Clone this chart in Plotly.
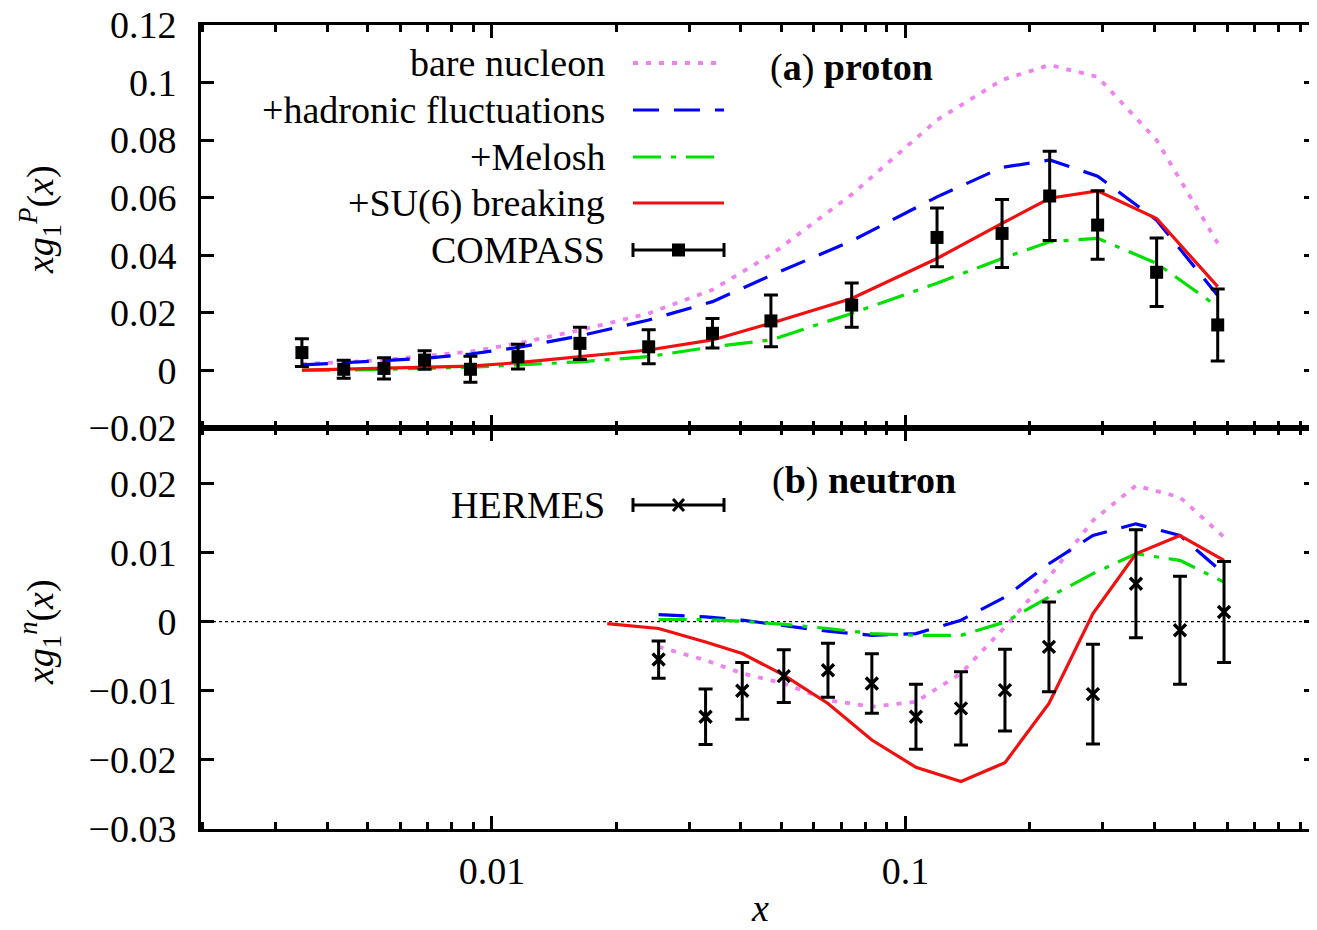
import plotly.graph_objects as go

# ---------------- data ----------------
# (a) proton : COMPASS points and model curves evaluated at the same x
x_proton = [0.00347, 0.00438, 0.00548, 0.00687, 0.00887, 0.01156, 0.01632, 0.02393,
            0.03414, 0.04727, 0.07411, 0.1192, 0.1712, 0.2232, 0.2915, 0.4049, 0.5689]
compass_g1p = [0.0062, 0.0004, 0.0007, 0.0036, 0.0004, 0.0048, 0.0094, 0.0082,
               0.0129, 0.0172, 0.0227, 0.0462, 0.0476, 0.0606, 0.0505, 0.0341, 0.0158]
compass_err = [0.0048, 0.0031, 0.0037, 0.0032, 0.0045, 0.0043, 0.0056, 0.0059,
               0.0051, 0.0090, 0.0077, 0.0102, 0.0118, 0.0155, 0.0119, 0.0119, 0.0125]
p_bare = [0.0022, 0.0029, 0.0036, 0.0050, 0.0065, 0.0094, 0.0140, 0.0198,
          0.0280, 0.0402, 0.0611, 0.0870, 0.1009, 0.1061, 0.1020, 0.0800, 0.0442]
p_hadronic = [0.0019, 0.0027, 0.0034, 0.0042, 0.0057, 0.0080, 0.0120, 0.0175,
              0.0239, 0.0330, 0.0450, 0.0603, 0.0705, 0.0731, 0.0675, 0.0522, 0.0260]
p_melosh = [0.0001, 0.0001, 0.0004, 0.0007, 0.0011, 0.0019, 0.0030, 0.0048,
            0.0082, 0.0106, 0.0198, 0.0303, 0.0389, 0.0447, 0.0459, 0.0372, 0.0221]
p_su6 = [0.0001, 0.0004, 0.0007, 0.0011, 0.0015, 0.0027, 0.0048, 0.0071,
         0.0106, 0.0164, 0.0250, 0.0389, 0.0511, 0.0598, 0.0624, 0.0528, 0.0291]

# (b) neutron : HERMES points and model curves
x_neutron = [0.02529, 0.03285, 0.04029, 0.05078, 0.06494, 0.08292, 0.1060,
             0.1362, 0.1740, 0.2223, 0.2840, 0.3608, 0.4611, 0.5893]
hermes_g1n = [-0.00549, -0.01376, -0.01001, -0.00789, -0.00703, -0.00895, -0.01376,
              -0.01256, -0.00991, -0.00366, -0.01049, 0.00548, -0.00126, 0.00139]
hermes_err = [0.0027, 0.0040, 0.0041, 0.0038, 0.0039, 0.0043, 0.0047,
              0.0053, 0.0059, 0.0065, 0.0072, 0.0078, 0.0078, 0.0073]
n_bare = [-0.00366, -0.00558, -0.0075, -0.00895, -0.01136, -0.01232, -0.0116,
          -0.0075, -0.00078, 0.00644, 0.01462, 0.01967, 0.01798, 0.01221]
n_hadronic = [0.00101, 0.00067, 0.0002, -0.00053, -0.0014, -0.00198, -0.00173,
              0.0002, 0.00355, 0.00837, 0.01245, 0.01414, 0.01245, 0.00693]
n_melosh = [0.0003, 0.0003, 0.00004, -0.0004, -0.001, -0.00173, -0.00198,
            -0.00198, -0.00006, 0.00355, 0.00693, 0.00981, 0.00885, 0.00571]
x_neutron_su6 = [0.0190] + x_neutron
n_su6 = [-0.0003, -0.0010, -0.00294, -0.00462, -0.00775, -0.01184, -0.01713, -0.02107,
         -0.02314, -0.0204, -0.01184, 0.00115, 0.00981, 0.01245, 0.00885]

series_names = ["bare nucleon", "+hadronic fluctuations", "+Melosh", "+SU(6) breaking"]
x_major_ticks = [0.01, 0.1, 1]
x_minor_ticks = [m * 10 ** e for e in (-3, -2, -1) for m in range(2, 10)]
y_top_ticks = [-0.02, 0, 0.02, 0.04, 0.06, 0.08, 0.1, 0.12]
y_top_labels = ["\u22120.02", "0", "0.02", "0.04", "0.06", "0.08", "0.1", "0.12"]
y_bot_ticks = [-0.03, -0.02, -0.01, 0, 0.01, 0.02]
y_bot_labels = ["\u22120.03", "\u22120.02", "\u22120.01", "0", "0.01", "0.02"]

# ---------------- styles / layout geometry ----------------
FONT = "Liberation Serif"
FS = 38
VIOLET, BLUE, GREEN, RED = "#ee82ee", "#0000ff", "#00e000", "#f01010"
styles = [
    dict(color=VIOLET, width=3.8, dash="5px,8px"),
    dict(color=BLUE, width=3.2, dash="26px,15px"),
    dict(color=GREEN, width=3.2, dash="28px,10px,5px,10px"),
    dict(color=RED, width=3.2, dash="solid"),
]

OFF = 8                       # default body margin of the html page
W, H = 1317 - OFF, 930 - OFF  # figure size so the page fills the window
PLOT_L, PLOT_R, PLOT_T, PLOT_B = 201, 1317, 25, 829   # page pixels of the frame
L, T = PLOT_L - OFF, PLOT_T - OFF
R = W - (PLOT_R - OFF)
B = H - (PLOT_B - OFF)
PW, PH = W - L - R, H - T - B
split = (PLOT_B - 428) / PH


def px(p):
    """page x pixel -> paper fraction"""
    return (p - PLOT_L) / PW


def py(p):
    """page y pixel -> paper fraction"""
    return (PLOT_B - p) / PH


fig = go.Figure()

top_curves = [p_bare, p_hadronic, p_melosh, p_su6]
for name, ys, st in zip(series_names, top_curves, styles):
    fig.add_trace(go.Scatter(x=x_proton, y=ys, mode="lines", name=name, line=st,
                             xaxis="x", yaxis="y", showlegend=False))
fig.add_trace(go.Scatter(x=x_proton, y=compass_g1p, mode="markers", name="COMPASS",
                         marker=dict(symbol="square", size=13, color="black"),
                         error_y=dict(type="data", array=compass_err, visible=True,
                                      color="black", thickness=3, width=7),
                         xaxis="x", yaxis="y", showlegend=False))

bot_curves = [(x_neutron, n_bare), (x_neutron, n_hadronic), (x_neutron, n_melosh),
              (x_neutron_su6, n_su6)]
for name, (xs, ys), st in zip(series_names, bot_curves, styles):
    fig.add_trace(go.Scatter(x=xs, y=ys, mode="lines", name=name, line=st,
                             xaxis="x2", yaxis="y2", showlegend=False))
fig.add_trace(go.Scatter(x=x_neutron, y=hermes_g1n, mode="markers", name="HERMES",
                         marker=dict(symbol="x-thin", size=12, color="black",
                                     line=dict(color="black", width=3.4)),
                         error_y=dict(type="data", array=hermes_err, visible=True,
                                      color="black", thickness=3, width=7),
                         xaxis="x2", yaxis="y2", showlegend=False))

xcommon = dict(type="log", range=[-2.7037, -0.00484], showgrid=False, zeroline=False,
               showline=True, linecolor="black", linewidth=3, mirror="allticks",
               ticks="inside", ticklen=13, tickwidth=2.5, tickcolor="black",
               tickmode="array", tickvals=x_major_ticks, automargin=False,
               minor=dict(tickmode="array", tickvals=x_minor_ticks, ticks="inside",
                          ticklen=7, tickwidth=2.5, tickcolor="black", showgrid=False),
               tickfont=dict(family=FONT, size=FS, color="black"))
ycommon = dict(showgrid=False, zeroline=False, showline=True, linecolor="black",
               linewidth=3, mirror="ticks", ticks="inside", ticklen=13, tickwidth=2.5,
               tickcolor="black", tickmode="array", ticklabeloverflow="allow",
               automargin=False,
               tickfont=dict(family=FONT, size=FS, color="black"),
               ticklabelstandoff=14)

fig.update_layout(
    width=W, height=H,
    margin=dict(l=L, r=R, t=T, b=B, pad=0, autoexpand=False),
    paper_bgcolor="white", plot_bgcolor="white",
    font=dict(family=FONT, size=FS, color="black"),
    xaxis=dict(xcommon, anchor="y", showticklabels=False),
    xaxis2=dict(xcommon, anchor="y2", matches="x", showticklabels=True,
                ticklabelstandoff=6),
    yaxis=dict(ycommon, domain=[split, 1], range=[-0.02, 0.12],
               tickvals=y_top_ticks, ticktext=y_top_labels, anchor="x"),
    yaxis2=dict(ycommon, domain=[0, split], range=[-0.03, 0.028], tickvals=y_bot_ticks,
                ticktext=y_bot_labels, anchor="x2"),
    showlegend=False,
)

shapes = []
# dotted zero line in the neutron panel
shapes.append(dict(type="line", xref="x2 domain", x0=0, x1=1, yref="y2", y0=0, y1=0,
                   line=dict(color="black", width=1.3, dash="dot"), layer="below"))

annotations = []
# legend (text right-aligned, sample on the right)
leg_text_x = px(607)
s0, s1 = px(633), px(724)
rows_y = [63, 110, 157, 203]
for name, yy, st in zip(series_names, rows_y, styles):
    annotations.append(dict(text=name, xref="paper", yref="paper", x=leg_text_x,
                            y=py(yy), xanchor="right", yanchor="middle",
                            showarrow=False, font=dict(family=FONT, size=FS)))
    shapes.append(dict(type="line", xref="paper", yref="paper", x0=s0, x1=s1,
                       y0=py(yy), y1=py(yy), line=st))


def errbar_sample(ypix, marker):
    out = [dict(type="line", xref="paper", yref="paper", x0=s0, x1=s1,
                y0=py(ypix), y1=py(ypix), line=dict(color="black", width=3))]
    for xe in (s0, s1):
        out.append(dict(type="line", xref="paper", yref="paper", x0=xe, x1=xe,
                        y0=py(ypix - 7), y1=py(ypix + 7),
                        line=dict(color="black", width=3)))
    if marker == "square":
        out.append(dict(type="rect", xref="paper", yref="paper",
                        x0=px(672), x1=px(685), y0=py(ypix - 6.5), y1=py(ypix + 6.5),
                        fillcolor="black", line=dict(color="black", width=0)))
    else:
        for d in (1, -1):
            out.append(dict(type="line", xref="paper", yref="paper",
                            x0=px(673), x1=px(684), y0=py(ypix - 6 * d),
                            y1=py(ypix + 6 * d), line=dict(color="black", width=3)))
    return out


annotations.append(dict(text="COMPASS", xref="paper", yref="paper", x=leg_text_x,
                        y=py(250), xanchor="right", yanchor="middle", showarrow=False,
                        font=dict(family=FONT, size=FS)))
shapes += errbar_sample(250, "square")
annotations.append(dict(text="HERMES", xref="paper", yref="paper", x=leg_text_x,
                        y=py(505), xanchor="right", yanchor="middle", showarrow=False,
                        font=dict(family=FONT, size=FS)))
shapes += errbar_sample(505, "x")

# panel labels
annotations.append(dict(text="(<b>a</b>) <b>proton</b>", xref="paper", yref="paper",
                        x=px(768), y=py(67), xanchor="left", yanchor="middle",
                        showarrow=False, font=dict(family=FONT, size=FS)))
annotations.append(dict(text="(<b>b</b>) <b>neutron</b>", xref="paper", yref="paper",
                        x=px(770), y=py(480), xanchor="left", yanchor="middle",
                        showarrow=False, font=dict(family=FONT, size=FS)))

# axis titles
annotations.append(dict(text="<i>xg</i><sub>1</sub><sup><i>P</i></sup>(<i>x</i>)",
                        xref="paper", yref="paper", x=px(40), y=py(220),
                        xanchor="center", yanchor="middle", textangle=-90,
                        showarrow=False, font=dict(family=FONT, size=FS)))
annotations.append(dict(text="<i>xg</i><sub>1</sub><sup><i>n</i></sup>(<i>x</i>)",
                        xref="paper", yref="paper", x=px(40), y=py(632),
                        xanchor="center", yanchor="middle", textangle=-90,
                        showarrow=False, font=dict(family=FONT, size=FS)))
annotations.append(dict(text="<i>x</i>", xref="paper", yref="paper", x=px(760),
                        y=py(908), xanchor="center", yanchor="middle", showarrow=False,
                        font=dict(family=FONT, size=FS)))
# tick label "1" sits on the right edge (mostly outside the frame, as in the original)
annotations.append(dict(text="1", xref="paper", yref="paper", x=1, y=py(870),
                        xanchor="center", yanchor="middle", xshift=4, showarrow=False,
                        font=dict(family=FONT, size=FS)))

fig.update_layout(shapes=shapes, annotations=annotations)
fig.write_html("out.html")
